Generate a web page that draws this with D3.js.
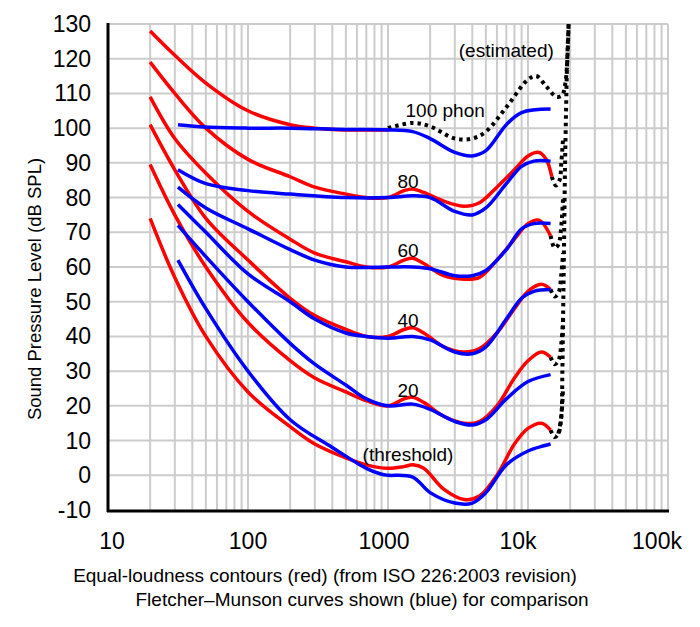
<!DOCTYPE html>
<html><head><meta charset="utf-8">
<script src="https://cdn.jsdelivr.net/npm/d3@7"></script>
<style>body{margin:0;background:#fff}text{font-family:"Liberation Sans",Arial,sans-serif}</style>
</head><body><svg id="c" width="700" height="627"></svg>
<script>
const xTickLabels = ["10","100","1000","10k","100k"];
const xTickValues = [10,100,1000,10000,100000];
const yTicks = [-10,0,10,20,30,40,50,60,70,80,90,100,110,120,130];
// red: ISO 226:2003 contours, [freq, dB]
const red0 = [[20,74],[30,57],[50,40],[100,24],[200,14],[300,9],[500,5],[700,3],[1000,2],[1300,2.5],[1500,3],[1800,2],[2500,-4],[3500,-7],[4500,-6],[6000,0],[8000,9],[10000,13.5],[12500,15],[14500,13]];
const red20 = [[20,89.5],[30,75],[50,60],[100,44],[200,33],[300,28],[500,24],[700,21.5],[1000,20],[1300,22],[1500,22.5],[1800,21],[2500,17],[3500,15],[4500,15.5],[6000,20],[8000,28],[10000,33],[12500,35.5],[14500,34]];
const red40 = [[20,101],[30,88],[50,74],[100,62],[200,51],[300,46],[500,42],[700,40],[1000,40],[1300,42],[1500,42.5],[1800,41],[2500,37],[3500,35.5],[4500,36.5],[6000,41],[8000,48],[10000,53],[12500,55],[14500,53.5]];
const red60 = [[20,109],[30,97],[50,87],[100,76],[200,68],[300,64],[500,61.5],[700,60],[1000,60],[1300,62],[1500,62.5],[1800,61],[2500,57.5],[3500,56.5],[4500,57],[6000,62],[8000,68],[10000,72.5],[12000,73.5],[14500,69]];
const red80 = [[20,119],[30,110],[50,100],[100,91],[200,86],[300,83],[500,81],[700,80],[1000,80],[1300,82],[1500,82.5],[1800,81.5],[2500,79],[3500,77.5],[4500,78.5],[6000,83],[8000,88],[10000,92],[12000,93],[13500,91],[14800,86]];
const red100 = [[20,128],[30,121],[50,113],[100,105],[200,101],[300,100],[500,99.5],[1000,99.5]];
// blue: Fletcher–Munson
const blue0 = [[31.6,62],[50,48],[100,30],[200,16],[400,8],[700,2],[900,0.3],[1000,0],[1500,-0.5],[2000,-5],[3000,-8],[4000,-8],[5000,-5],[7000,3],[10000,7],[13000,8.5],[14500,9]];
const blue20 = [[31.6,72],[50,63],[100,50],[200,38],[300,32],[500,26],[700,22],[1000,20],[1500,20.5],[2000,19],[3000,15.5],[4000,14.5],[5000,16],[7000,22],[10000,27],[14500,29]];
const blue40 = [[31.6,78],[50,70],[100,58],[200,50],[300,45],[500,41],[700,40],[1000,39.5],[1500,40],[2000,39],[3000,35.5],[4000,35],[5000,37],[7000,45],[9000,51],[11000,53],[14500,53.5]];
const blue60 = [[31.6,83],[50,77],[100,71],[200,65],[300,62],[500,60],[1000,60],[1500,60],[2000,59.5],[3000,57.5],[4000,57.5],[5000,59],[7000,65],[9000,71],[11000,72.5],[14500,72.5]];
const blue80 = [[31.6,88],[50,84],[100,82],[200,81],[500,80],[1000,80],[1500,80.5],[2000,80],[3000,76],[4000,75],[5000,77],[7000,84],[9000,89],[11000,90.5],[14500,90.5]];
const blue100 = [[31.6,101],[50,100.3],[100,100],[200,100],[500,99.6],[1000,99.5],[1500,99],[2000,97],[3000,93],[4000,92],[5000,93.5],[7000,101],[9000,104.5],[14500,105.5]];
// black dotted: estimated
const est100 = [[1000,100],[1500,101.5],[2000,100.5],[3000,97],[4000,97],[5000,99],[7000,106],[10000,114],[11500,115],[13500,112],[16000,109],[17500,109.5],[18500,113],[19200,122],[19500,130]];
const estHooks = [
  [[14500,13],[15500,11],[16500,12],[17300,17],[17800,25]],
  [[14500,34],[15500,32],[16500,33],[17300,38],[17800,45]],
  [[14500,53.5],[15500,51.5],[16500,52.5],[17300,58],[17800,64]],
  [[14500,69],[15500,65.5],[16500,66.5],[17300,72],[17800,80]],
  [[14800,86],[15800,83.5],[16800,85],[17300,90],[17800,97]]
];
const estVertical = [[16500,12],[17300,17],[17600,30],[17800,45],[18000,60],[18200,75],[18400,90],[18700,105],[19000,118],[19500,130]];
const levelLabels = [{t:"100 phon",f:2560,v:103.3},{t:"80",f:1390,v:82.8},{t:"60",f:1390,v:62.9},{t:"40",f:1390,v:42.8},{t:"20",f:1390,v:22.6},{t:"(threshold)",f:1390,v:4.1},{t:"(estimated)",f:7000,v:120.5}];

const svg = d3.select("#c");
const x = d3.scaleLog().domain([10,100000]).range([108,668]);
const y = d3.scaleLinear().domain([-10,130]).range([510,24]);

// grid
const gridV = [];
for (let d=10; d<100000; d*=10) for (let k=2;k<=10;k++) gridV.push(d*k);
svg.append("g").selectAll("line").data(gridV).join("line")
  .attr("x1",d=>x(d)).attr("x2",d=>x(d)).attr("y1",y(130)).attr("y2",y(-10))
  .attr("stroke","#cccccc").attr("stroke-width",2);
svg.append("g").selectAll("line").data(yTicks.slice(1)).join("line")
  .attr("x1",x(10)).attr("x2",x(100000)).attr("y1",d=>y(d)).attr("y2",d=>y(d))
  .attr("stroke","#cccccc").attr("stroke-width",2);
// axes
svg.append("line").attr("x1",x(10)).attr("x2",x(10)).attr("y1",y(130)-1).attr("y2",y(-10)+2).attr("stroke","#000").attr("stroke-width",3);
svg.append("line").attr("x1",x(10)-1).attr("x2",x(100000)+1).attr("y1",y(-10)+1).attr("y2",y(-10)+1).attr("stroke","#000").attr("stroke-width",3);

svg.append("g").selectAll("text").data(yTicks).join("text")
  .attr("x",91).attr("y",d=>y(d)+8).attr("text-anchor","end").attr("font-size",23).text(d=>d);
const xOff=[4,0,-4,-10,-11];
svg.append("g").selectAll("text").data(xTickValues).join("text")
  .attr("x",(d,i)=>x(d)+xOff[i]).attr("y",549).attr("text-anchor","middle").attr("font-size",23).text((d,i)=>xTickLabels[i]);

const line = d3.line().x(d=>x(d[0])).y(d=>y(d[1])).curve(d3.curveCatmullRom);
const dotted = g=>g.attr("fill","none").attr("stroke","#000").attr("stroke-width",4).attr("stroke-dasharray","3.5,4");
svg.append("path").datum(est100).attr("d",line).call(dotted);
estHooks.forEach(h=>svg.append("path").datum(h).attr("d",line).call(dotted));
svg.append("path").datum(estVertical).attr("d",line).call(dotted);

[red0,red20,red40,red60,red80,red100].forEach(s=>svg.append("path").datum(s).attr("d",line)
  .attr("fill","none").attr("stroke","#ff0000").attr("stroke-width",3.5));
[blue0,blue20,blue40,blue60,blue80,blue100].forEach(s=>svg.append("path").datum(s).attr("d",line)
  .attr("fill","none").attr("stroke","#0000ff").attr("stroke-width",3.5));

svg.append("g").selectAll("text").data(levelLabels).join("text")
  .attr("x",d=>x(d.f)).attr("y",d=>y(d.v)).attr("text-anchor","middle").attr("font-size",19).text(d=>d.t);

svg.append("text").attr("transform","translate(41,289) rotate(-90)").attr("text-anchor","middle").attr("font-size",18.5).text("Sound Pressure Level (dB SPL)");
svg.append("text").attr("x",325).attr("y",582).attr("text-anchor","middle").attr("font-size",19).text("Equal-loudness contours (red) (from ISO 226:2003 revision)");
svg.append("text").attr("x",362).attr("y",606).attr("text-anchor","middle").attr("font-size",19).text("Fletcher–Munson curves shown (blue) for comparison");
</script></body></html>
